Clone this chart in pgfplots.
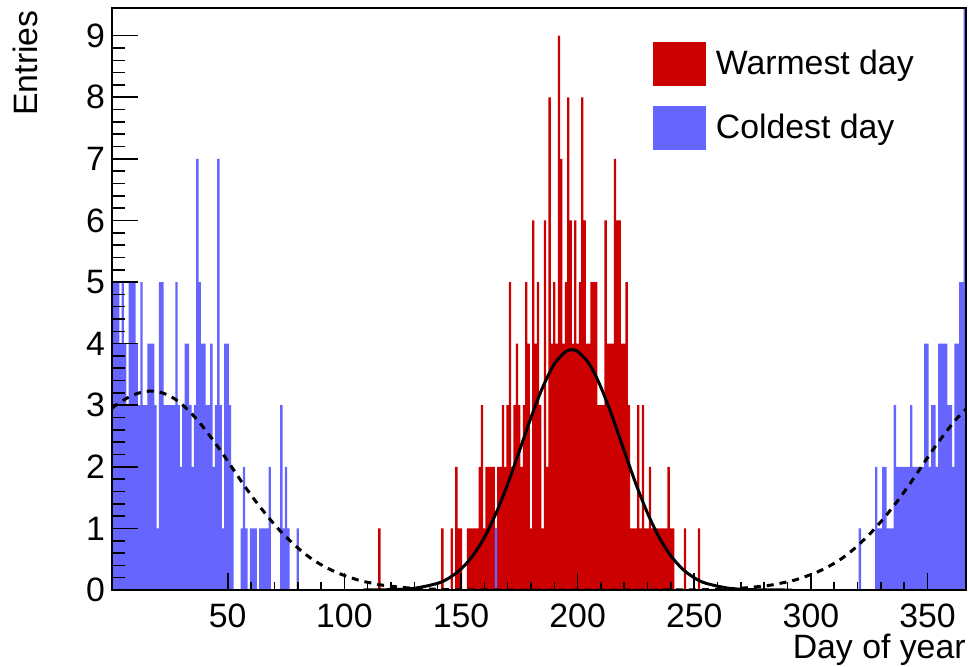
\documentclass[border=0pt]{standalone}
\usepackage{pgfplots}
\pgfplotsset{compat=1.18}
\usepackage{pgfplotstable}
\usepackage{fontspec}
\setmainfont{Liberation Sans}

\definecolor{warm}{RGB}{204,0,0}
\definecolor{cold}{RGB}{102,102,255}

% entries per day of year (runs of zeros are written once)
\pgfplotstableread{
d n
114 0
115 1
116 0
142 1
143 0
146 1
147 0
148 2
149 1
150 1
151 0
153 1
154 1
155 1
156 1
157 1
158 2
159 3
160 1
161 2
162 2
163 2
164 2
165 1
166 2
167 2
168 3
169 2
170 3
171 5
172 2
173 3
174 4
175 3
176 2
177 3
178 5
179 4
180 1
181 6
182 4
183 5
184 3
185 1
186 6
187 2
188 8
189 4
190 5
191 4
192 9
193 7
194 4
195 5
196 8
197 6
198 4
199 6
200 4
201 5
202 8
203 6
204 4
205 4
206 5
207 5
208 5
209 3
210 3
211 3
212 6
213 4
214 4
215 4
216 7
217 6
218 6
219 4
220 4
221 5
222 3
223 1
224 1
225 1
226 3
227 1
228 3
229 1
230 1
231 2
232 1
233 1
234 1
235 1
236 1
237 1
238 1
239 2
240 1
241 1
242 0
246 1
247 0
252 1
253 0
}\warmest

\pgfplotstableread{
d n
1 5
2 5
3 5
4 4
5 5
6 4
7 3
8 5
9 5
10 5
11 4
12 3
13 5
14 3
15 3
16 4
17 4
18 4
19 3
20 1
21 5
22 5
23 3
24 3
25 3
26 3
27 3
28 5
29 3
30 2
31 3
32 4
33 4
34 3
35 2
36 3
37 7
38 5
39 4
40 4
41 3
42 3
43 4
44 2
45 3
46 7
47 3
48 1
49 4
50 4
51 3
52 2
53 0
56 1
57 2
58 1
59 0
60 1
61 1
62 1
63 0
64 1
65 1
66 1
67 1
68 2
69 0
73 3
74 1
75 2
76 1
77 0
80 1
81 0
165 1
166 0
321 1
322 0
328 2
329 1
330 1
331 2
332 2
333 1
334 1
335 1
336 3
337 2
338 2
339 2
340 2
341 2
342 2
343 3
344 2
345 2
346 2
347 2
348 2
349 4
350 4
351 2
352 3
353 3
354 2
355 4
356 4
357 4
358 4
359 3
360 3
361 2
362 4
363 4
364 5
365 5
366 10
367 10
}\coldest

\begin{document}
\begin{tikzpicture}[font=\fontsize{16.9}{20.3}\selectfont]
\begin{axis}[
    scale only axis,
    width=426.85pt, height=291pt,
    xmin=0.5, xmax=366.5,
    ymin=0, ymax=9.45,
    axis on top,
    tick align=inside,
    tick pos=left,
    xtick={50,100,...,350},
    ytick={0,1,...,9},
    minor x tick num=4,
    minor y tick num=4,
    xtick style={/pgfplots/major tick length=8.5pt, /pgfplots/minor tick length=4pt},
    ytick style={/pgfplots/major tick length=13pt, /pgfplots/minor tick length=6.5pt},
    every tick/.append style={black, line width=0.8pt},
    axis line style={line width=1pt},
    /pgf/number format/assume math mode=true,
    xticklabel style={inner sep=0pt, yshift=-6.5pt},
    yticklabel style={inner sep=0pt, xshift=-3.5pt},
    xlabel={Day of year},
    xlabel style={at={(axis description cs:1,-0.0755)}, anchor=north east, inner sep=0pt},
    ylabel={Entries},
    ylabel style={at={(axis description cs:-0.1023,0.9966)}, anchor=east, inner sep=0pt},
    legend style={at={(axis description cs:0.6334,0.9416)}, anchor=north west,
        draw=none, fill=none, inner sep=0pt, outer sep=0pt, row sep=10pt,
        nodes={inner sep=0pt}},
    legend cell align=left,
]
\addlegendimage{legend image code/.code={\fill[warm] (0pt,-10.75pt) rectangle (26pt,10.75pt);}}
\addlegendentry{\hspace{5pt}Warmest day}
\addlegendimage{legend image code/.code={\fill[cold] (0pt,-10.75pt) rectangle (26pt,10.75pt);}}
\addlegendentry{\hspace{5pt}Coldest day}

\addplot[forget plot, const plot, fill=warm, draw=none]
    table[x expr=\thisrow{d}-0.5, y=n] {\warmest} \closedcycle;
\addplot[forget plot, const plot, fill=cold, draw=none]
    table[x expr=\thisrow{d}-0.5, y=n] {\coldest} \closedcycle;

% fit to the warmest days
\addplot[forget plot, black, line width=1.5pt, smooth] coordinates {
(108,0) (110,0.001) (120,0.006) (130,0.028) (140,0.109) (145,0.198)
(150,0.34) (155,0.553) (160,0.852) (165,1.245) (170,1.72) (175,2.255)
(180,2.80) (185,3.29) (190,3.67) (195,3.874) (197.5,3.9) (200,3.874)
(205,3.67) (210,3.29) (215,2.80) (220,2.255) (225,1.72) (230,1.245)
(235,0.852) (240,0.553) (245,0.34) (250,0.198) (255,0.109) (265,0.028)
(275,0.006) (285,0.001) (292,0)
};
% fit to the coldest days
\addplot[forget plot, black, line width=1.5pt, dash pattern=on 3.5pt off 3pt, smooth] coordinates {
(0.5,2.95) (2,3.00) (7,3.12) (12,3.20) (17,3.23) (22,3.20) (27,3.11)
(32,2.96) (37,2.76) (42,2.52) (47,2.26) (52,1.98) (57,1.70) (62,1.44)
(67,1.20) (72,0.98) (77,0.79) (82,0.62) (87,0.48) (92,0.37) (97,0.28)
(102,0.21) (107,0.15) (112,0.11) (117,0.075) (127,0.035) (137,0.015)
(147,0.005) (160,0.001) (175,0) (225,0) (239,0.001) (252,0.005)
(262,0.015) (272,0.035) (282,0.075) (287,0.11) (292,0.15) (297,0.21)
(302,0.28) (307,0.37) (312,0.48) (317,0.62) (322,0.79) (327,0.98)
(332,1.20) (337,1.44) (342,1.70) (347,1.98) (352,2.26) (357,2.52)
(362,2.76) (366.5,2.94)
};

\coordinate (bbsw) at (rel axis cs:-0.1315,-0.1306);
\coordinate (bbne) at (rel axis cs:1.0035,1.0137);
\end{axis}
\pgfresetboundingbox
\path[use as bounding box] (bbsw) rectangle (bbne);
\end{tikzpicture}
\end{document}
